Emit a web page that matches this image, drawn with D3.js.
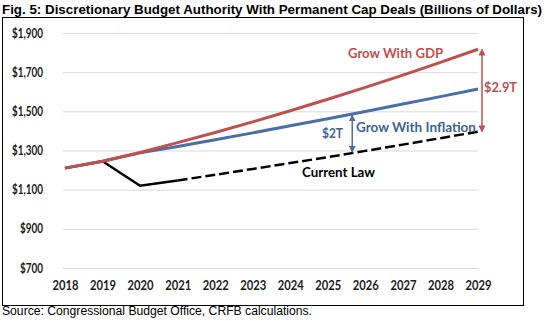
<!DOCTYPE html>
<html>
<head>
<meta charset="utf-8">
<script src="https://d3js.org/d3.v7.min.js"></script>
<style>
  body { margin: 0; background: #fff; }
  svg { display: block; }
  .lbl { font-family: Lato, "Open Sans", sans-serif; font-weight: bold; }
</style>
</head>
<body>
<svg id="chart" width="545" height="321"></svg>
<script>
// fiscal years on the category axis
const years = [2018, 2019, 2020, 2021, 2022, 2023, 2024, 2025, 2026, 2027, 2028, 2029];
// budget authority, billions of dollars
const growWithGdp =       [1210, 1245, 1290, 1340, 1392, 1446, 1503, 1562, 1622, 1685, 1750, 1817];
const growWithInflation = [1210, 1245, 1288, 1320, 1355, 1390, 1426, 1462, 1499, 1537, 1575, 1614];
const currentLaw =        [1210, 1245, 1120, 1147, 1176, 1206, 1236, 1266, 1298, 1330, 1363, 1396];
const yTicks = [700, 900, 1100, 1300, 1500, 1700, 1900];
// where current law switches from enacted (solid) to projected (dashed)
const lastEnactedYear = 2021;
// year at which the $2T gap arrow is placed
const inflationGapYear = 2025.65;

const svg = d3.select("#chart");
const red = "#c0504d", blue = "#4a6ea6", blueText = "#3f6296";

const x = d3.scaleLinear().domain([2018, 2029]).range([65, 478]);
const y = d3.scaleLinear().domain([700, 1900]).range([268, 33]);

// title
svg.append("text")
  .attr("x", 2).attr("y", 13.5)
  .attr("textLength", 540).attr("lengthAdjust", "spacingAndGlyphs")
  .style("font-family", "'Liberation Sans', Arial, sans-serif")
  .style("font-weight", "bold").style("font-size", "13px")
  .text("Fig. 5: Discretionary Budget Authority With Permanent Cap Deals (Billions of Dollars)");

// chart frame
svg.append("rect")
  .attr("x", 2.5).attr("y", 17.5).attr("width", 521).attr("height", 288)
  .attr("fill", "none").attr("stroke", "#000").attr("stroke-width", 1);

// source line
svg.append("text")
  .attr("x", 2).attr("y", 315)
  .attr("textLength", 310).attr("lengthAdjust", "spacingAndGlyphs")
  .style("font-family", "'Liberation Sans', Arial, sans-serif")
  .style("font-size", "12px")
  .text("Source: Congressional Budget Office, CRFB calculations.");

// gridlines + y labels
const yAxis = d3.axisLeft(y).tickValues(yTicks).tickSize(-(x.range()[1] - 63)).tickPadding(20)
  .tickFormat(d => "$" + d3.format(",")(d));
const gy = svg.append("g").attr("transform", "translate(63,0)").call(yAxis);
gy.select(".domain").remove();
gy.selectAll(".tick line").attr("stroke", "#d9d9d9").attr("stroke-width", 1);
gy.selectAll(".tick text")
  .attr("class", "lbl").attr("x", -20)
  .style("font-size", "12.5px").attr("fill", "#1a1a1a")
  .attr("textLength", d => d >= 1000 ? 31 : 23).attr("lengthAdjust", "spacingAndGlyphs");

// x labels
const xAxis = d3.axisBottom(x).tickValues(years).tickSize(0).tickPadding(0).tickFormat(d3.format("d"));
const gx = svg.append("g").attr("transform", "translate(0,279)").call(xAxis);
gx.select(".domain").remove();
gx.selectAll(".tick text")
  .attr("class", "lbl").attr("dy", "0.9em")
  .style("font-size", "12.5px").attr("fill", "#1a1a1a")
  .attr("textLength", 26).attr("lengthAdjust", "spacingAndGlyphs");

const toPts = vals => years.map((yr, i) => ({ yr, v: vals[i] }));
const line = d3.line().x(d => x(d.yr)).y(d => y(d.v));

// current law: enacted part solid, projection dashed
const cl = toPts(currentLaw);
svg.append("path").datum(cl.filter(d => d.yr <= lastEnactedYear))
  .attr("d", line).attr("fill", "none").attr("stroke", "#000").attr("stroke-width", 2.5);
svg.append("path").datum(cl.filter(d => d.yr >= lastEnactedYear))
  .attr("d", line).attr("fill", "none").attr("stroke", "#000").attr("stroke-width", 2.5)
  .attr("stroke-dasharray", "10,4");

svg.append("path").datum(toPts(growWithInflation))
  .attr("d", line).attr("fill", "none").attr("stroke", blue).attr("stroke-width", 3);
svg.append("path").datum(toPts(growWithGdp))
  .attr("d", line).attr("fill", "none").attr("stroke", red).attr("stroke-width", 3);

// arrowheads
const defs = svg.append("defs");
[["blueHead", blue], ["redHead", red]].forEach(([id, c]) => {
  defs.append("marker").attr("id", id)
    .attr("viewBox", "0 0 10 10").attr("refX", 9).attr("refY", 5)
    .attr("markerWidth", 7).attr("markerHeight", 7)
    .attr("markerUnits", "userSpaceOnUse").attr("orient", "auto-start-reverse")
    .append("path").attr("d", "M0,0 L10,5 L0,10 Z").attr("fill", c);
});

// value of a series between two years
const valueAt = (vals, yr) => {
  const i = Math.min(years.length - 2, Math.floor(yr - years[0]));
  const t = yr - years[i];
  return vals[i] + (vals[i + 1] - vals[i]) * t;
};

// $2T gap: inflation path vs current law
const gx1 = x(inflationGapYear);
svg.append("line")
  .attr("x1", gx1).attr("x2", gx1)
  .attr("y1", y(valueAt(growWithInflation, inflationGapYear)) + 1)
  .attr("y2", y(valueAt(currentLaw, inflationGapYear)) - 1)
  .attr("stroke", blue).attr("stroke-width", 1.5)
  .attr("marker-start", "url(#blueHead)").attr("marker-end", "url(#blueHead)");

// $2.9T gap: GDP path vs current law at the end of the window
const last = years.length - 1;
const gx2 = x(years[last]) + 4;
svg.append("line")
  .attr("x1", gx2).attr("x2", gx2)
  .attr("y1", y(growWithGdp[last])).attr("y2", y(currentLaw[last]))
  .attr("stroke", red).attr("stroke-width", 1.5)
  .attr("marker-start", "url(#redHead)").attr("marker-end", "url(#redHead)");

// series and gap labels
const labels = [
  { t: "Grow With GDP", x: 348, y: 58, w: 95, c: red },
  { t: "Grow With Inflation", x: 356, y: 132, w: 120, c: blueText },
  { t: "$2T", x: 322, y: 138, w: 21, c: blueText },
  { t: "Current Law", x: 302, y: 177, w: 73, c: "#000" },
  { t: "$2.9T", x: 484, y: 92, w: 33, c: red }
];
svg.selectAll("text.note").data(labels).join("text")
  .attr("class", "note lbl")
  .attr("x", d => d.x).attr("y", d => d.y)
  .attr("textLength", d => d.w).attr("lengthAdjust", "spacingAndGlyphs")
  .style("font-size", "14px").attr("fill", d => d.c)
  .text(d => d.t);
</script>
</body>
</html>
